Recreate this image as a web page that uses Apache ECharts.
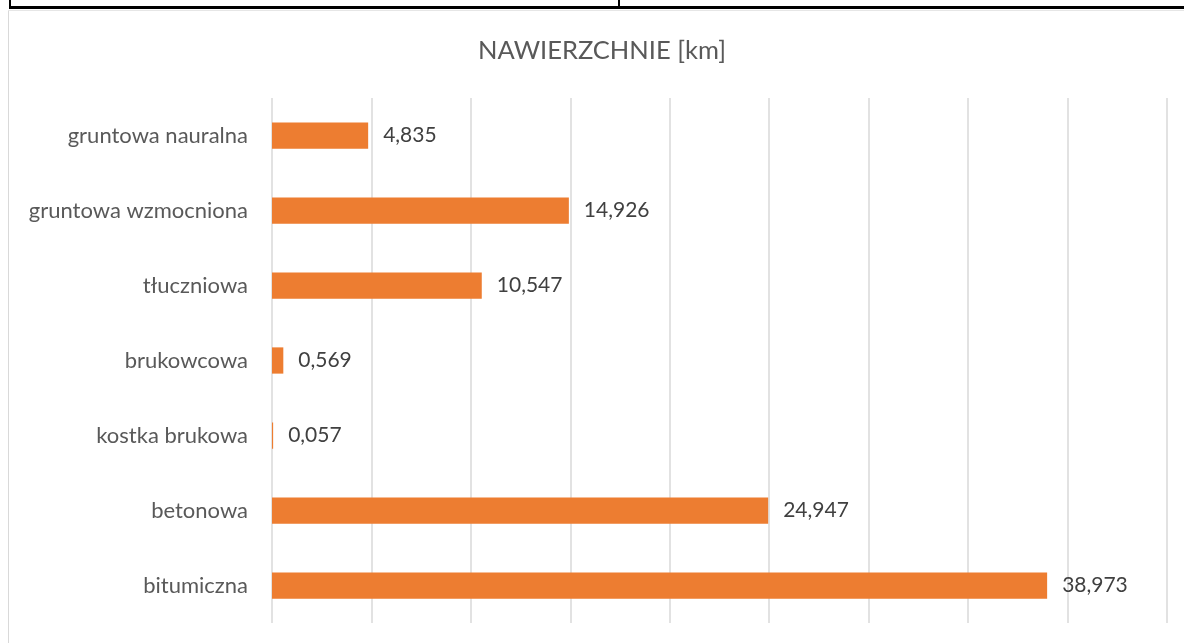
<!DOCTYPE html>
<html>
<head>
<meta charset="utf-8">
<script src="https://cdn.jsdelivr.net/npm/echarts@6/dist/echarts.min.js"></script>
<style>
  html, body { margin: 0; padding: 0; background: #ffffff; }
  #myChart { width: 1184px; height: 643px; }
</style>
</head>
<body>
<div id="myChart"></div>
<script>
// kategorie od góry do dołu
var categories = [
  "gruntowa nauralna",
  "gruntowa wzmocniona",
  "tłuczniowa",
  "brukowcowa",
  "kostka brukowa",
  "betonowa",
  "bitumiczna"
];
var values = [4.835, 14.926, 10.547, 0.569, 0.057, 24.947, 38.973];

var myChart = echarts.init(document.getElementById("myChart"));
var font = "Lato, 'Open Sans', sans-serif";

var option = {
  backgroundColor: "#ffffff",
  title: {
    text: "NAWIERZCHNIE [km]",
    left: 473,
    top: 33,
    textStyle: {
      fontFamily: font,
      fontSize: 25.5,
      fontWeight: "normal",
      color: "#595959"
    }
  },
  grid: {
    left: 272,
    right: 17,
    top: 98,
    bottom: 20
  },
  xAxis: {
    type: "value",
    min: 0,
    max: 45,
    interval: 5,
    axisLabel: { show: false },
    axisLine: { show: false },
    axisTick: { show: false },
    splitLine: {
      show: true,
      lineStyle: { color: "#d9d9d9", width: 1.5 }
    }
  },
  yAxis: {
    type: "category",
    inverse: true,
    data: categories,
    axisLine: { show: false },
    axisTick: { show: false },
    axisLabel: {
      margin: 24,
      fontFamily: font,
      fontSize: 22,
      color: "#595959"
    }
  },
  series: [
    {
      type: "bar",
      data: values,
      barWidth: "35%",
      itemStyle: { color: "#ed7d31" },
      label: {
        show: true,
        position: "right",
        distance: 15,
        fontFamily: font,
        fontSize: 21,
        color: "#404040",
        formatter: function (p) {
          return p.value.toFixed(3).replace(".", ",");
        }
      }
    }
  ],
  // ramki tabeli i obszaru wykresu
  graphic: [
    { type: "rect", shape: { x: 8, y: 10, width: 1, height: 633 }, style: { fill: "#d9d9d9" } },
    { type: "rect", shape: { x: 8, y: 10, width: 1176, height: 1 }, style: { fill: "#e6e6e6" } },
    { type: "rect", shape: { x: 9, y: 6, width: 1175, height: 3 }, style: { fill: "#000000" } },
    { type: "rect", shape: { x: 9, y: 0, width: 2, height: 8 }, style: { fill: "#000000" } },
    { type: "rect", shape: { x: 618, y: 0, width: 2, height: 8 }, style: { fill: "#000000" } }
  ]
};

option && myChart.setOption(option);
</script>
</body>
</html>
